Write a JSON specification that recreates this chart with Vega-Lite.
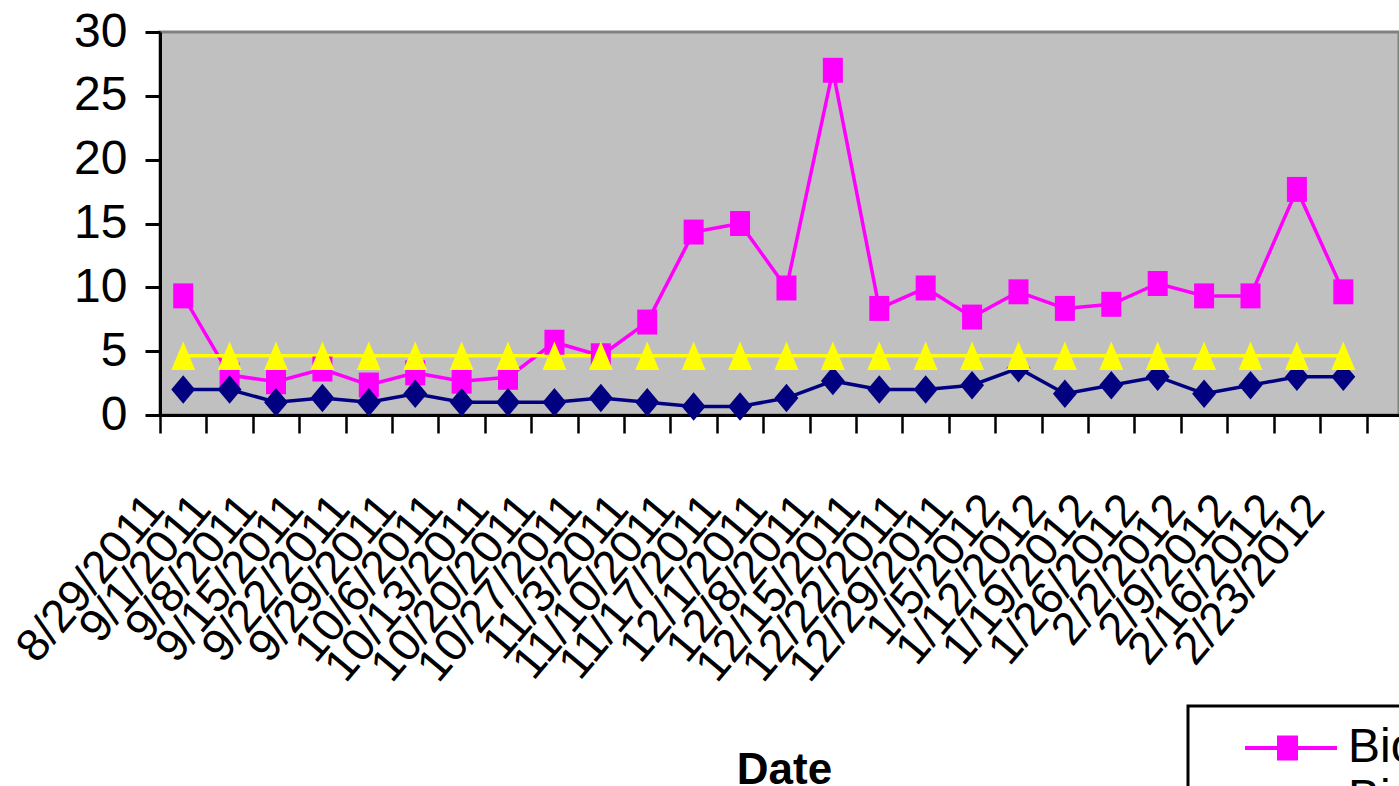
{
  "$schema": "https://vega.github.io/schema/vega-lite/v6.json",
  "width": 1239,
  "height": 383,
  "autosize": {"type": "none"},
  "padding": {"left": 160, "top": 32, "right": 0, "bottom": 371},
  "background": "white",
  "config": {
    "view": {"fill": "#C0C0C0", "stroke": "#808080", "strokeWidth": 3},
    "font": "Liberation Sans, Arial, sans-serif"
  },
  "data": {
    "values": [
      {"date": "8/29/2011", "Bio Site 1": 9.33, "Bio Site 2": 2, "Benchmark": 4.64},
      {"date": "9/1/2011", "Bio Site 1": 3.13, "Bio Site 2": 2, "Benchmark": 4.64},
      {"date": "9/8/2011", "Bio Site 1": 2.6, "Bio Site 2": 1, "Benchmark": 4.64},
      {"date": "9/15/2011", "Bio Site 1": 3.6, "Bio Site 2": 1.33, "Benchmark": 4.64},
      {"date": "9/22/2011", "Bio Site 1": 2.35, "Bio Site 2": 1, "Benchmark": 4.64},
      {"date": "9/29/2011", "Bio Site 1": 3.3, "Bio Site 2": 1.67, "Benchmark": 4.64},
      {"date": "10/6/2011", "Bio Site 1": 2.65, "Bio Site 2": 1, "Benchmark": 4.64},
      {"date": "10/13/2011", "Bio Site 1": 2.95, "Bio Site 2": 1, "Benchmark": 4.64},
      {"date": "10/20/2011", "Bio Site 1": 5.7, "Bio Site 2": 1, "Benchmark": 4.64},
      {"date": "10/27/2011", "Bio Site 1": 4.64, "Bio Site 2": 1.33, "Benchmark": 4.64},
      {"date": "11/3/2011", "Bio Site 1": 7.28, "Bio Site 2": 1, "Benchmark": 4.64},
      {"date": "11/10/2011", "Bio Site 1": 14.33, "Bio Site 2": 0.67, "Benchmark": 4.64},
      {"date": "11/17/2011", "Bio Site 1": 15.0, "Bio Site 2": 0.67, "Benchmark": 4.64},
      {"date": "12/1/2011", "Bio Site 1": 9.95, "Bio Site 2": 1.33, "Benchmark": 4.64},
      {"date": "12/8/2011", "Bio Site 1": 27.0, "Bio Site 2": 2.67, "Benchmark": 4.64},
      {"date": "12/15/2011", "Bio Site 1": 8.35, "Bio Site 2": 2, "Benchmark": 4.64},
      {"date": "12/22/2011", "Bio Site 1": 9.95, "Bio Site 2": 2, "Benchmark": 4.64},
      {"date": "12/29/2011", "Bio Site 1": 7.67, "Bio Site 2": 2.33, "Benchmark": 4.64},
      {"date": "1/5/2012", "Bio Site 1": 9.65, "Bio Site 2": 3.67, "Benchmark": 4.64},
      {"date": "1/12/2012", "Bio Site 1": 8.35, "Bio Site 2": 1.67, "Benchmark": 4.64},
      {"date": "1/19/2012", "Bio Site 1": 8.67, "Bio Site 2": 2.33, "Benchmark": 4.64},
      {"date": "1/26/2012", "Bio Site 1": 10.3, "Bio Site 2": 3, "Benchmark": 4.64},
      {"date": "2/2/2012", "Bio Site 1": 9.33, "Bio Site 2": 1.67, "Benchmark": 4.64},
      {"date": "2/9/2012", "Bio Site 1": 9.33, "Bio Site 2": 2.33, "Benchmark": 4.64},
      {"date": "2/16/2012", "Bio Site 1": 17.67, "Bio Site 2": 3, "Benchmark": 4.64},
      {"date": "2/23/2012", "Bio Site 1": 9.65, "Bio Site 2": 3, "Benchmark": 4.64}
    ]
  },
  "transform": [
    {"fold": ["Bio Site 1", "Bio Site 2", "Benchmark"], "as": ["series", "value"]}
  ],
  "encoding": {
    "x": {
      "field": "date",
      "type": "ordinal",
      "sort": null,
      "scale": {"type": "band", "paddingInner": 0, "paddingOuter": 0.35, "align": 0},
      "axis": {
        "title": "Date",
        "titleFontWeight": "bold",
        "titleFontSize": 44,
        "titleColor": "black",
        "titleX": 624,
        "titleY": 368,
        "titleBaseline": "alphabetic",
        "titleAnchor": "middle",
        "labelAngle": -50,
        "labelAlign": "right",
        "labelBaseline": "middle",
        "labelFontSize": 46,
        "labelColor": "black",
        "labelPadding": 68,
        "labelOffset": -28,
        "labelOverlap": false,
        "labelLimit": 0,
        "tickBand": "extent",
        "tickSize": 18,
        "tickWidth": 2.5,
        "tickColor": "black",
        "domainColor": "black",
        "domainWidth": 3,
        "grid": false
      }
    },
    "y": {
      "field": "value",
      "type": "quantitative",
      "scale": {"domain": [0, 30], "nice": false},
      "axis": {
        "title": null,
        "values": [0, 5, 10, 15, 20, 25, 30],
        "tickSize": 15,
        "tickWidth": 3,
        "tickColor": "black",
        "domainColor": "black",
        "domainWidth": 3,
        "labelFontSize": 48,
        "labelColor": "black",
        "labelPadding": 18,
        "grid": false
      }
    },
    "color": {
      "field": "series",
      "type": "nominal",
      "scale": {"domain": ["Bio Site 1", "Bio Site 2", "Benchmark"], "range": ["#FF00FF", "#000080", "#FFFF00"]},
      "legend": {
        "orient": "none",
        "legendX": 1028,
        "legendY": 674,
        "title": null,
        "fillColor": "white",
        "strokeColor": "black",
        "padding": 18,
        "labelFontSize": 48,
        "labelColor": "black",
        "labelLimit": 0,
        "symbolType": "M-2.3,-0.1H2.3V0.1H-2.3Z M-0.7,-0.62H0.35V0.62H-0.7Z",
        "symbolSize": 1600,
        "symbolOffset": 61,
        "labelOffset": 33,
        "rowPadding": 3,
        "symbolStrokeWidth": 0,
        "symbolOpacity": 1,
        "encode": {
          "legend": {"update": {"strokeWidth": {"value": 3}}},
          "symbols": {
            "update": {
              "fill": {"scale": "color", "field": "value"},
              "fillOpacity": {"value": 1},
              "strokeWidth": {"value": 0}
            }
          }
        }
      }
    }
  },
  "layer": [
    {"mark": {"type": "line", "strokeWidth": 3.5}},
    {
      "transform": [{"filter": "datum.series === 'Bio Site 1'"}],
      "mark": {"type": "point", "filled": true, "opacity": 1, "size": 676, "shape": "M-0.77,-0.96H0.77V0.96H-0.77Z"}
    },
    {
      "transform": [{"filter": "datum.series === 'Bio Site 2'"}],
      "mark": {"type": "point", "filled": true, "opacity": 1, "size": 676, "shape": "M0,-1.1L0.92,0L0,1.1L-0.92,0Z"}
    },
    {
      "transform": [{"filter": "datum.series === 'Benchmark'"}],
      "mark": {"type": "point", "filled": true, "opacity": 1, "size": 676, "shape": "M0,-1.1L0.92,1.1L-0.92,1.1Z"}
    }
  ]
}
